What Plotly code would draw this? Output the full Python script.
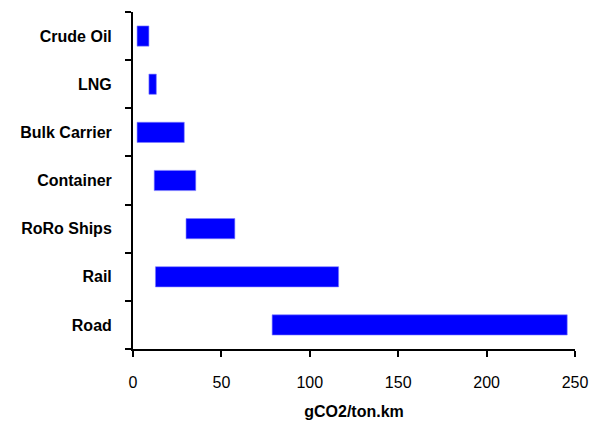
import plotly.graph_objects as go

categories = ["Crude Oil", "LNG", "Bulk Carrier", "Container", "RoRo Ships", "Rail", "Road"]
low_values = [2.3, 9, 2.3, 12, 30, 12.7, 78.7]
high_values = [9, 13.2, 29, 35.5, 57.6, 116.3, 245.6]
x_ticks = [0, 50, 100, 150, 200, 250]

spans = [h - l for l, h in zip(low_values, high_values)]

fig = go.Figure(go.Bar(
    y=categories, x=spans, base=low_values, orientation="h",
    marker=dict(color="#0000FF", line=dict(color="#8080FF", width=0.6)),
    width=0.42,
))

font_family = "Liberation Sans, Arial, sans-serif"
# page body has an 8px margin, so the figure is sized to fit the remaining window
fig.update_layout(
    width=591, height=413,
    margin=dict(l=125, r=24, t=4, b=72),
    paper_bgcolor="white", plot_bgcolor="white",
    showlegend=False,
    font=dict(family=font_family, size=15, color="black"),
)
fig.update_xaxes(
    range=[0, 250], tickvals=x_ticks, showgrid=False, zeroline=False,
    automargin=False,
    showline=True, linecolor="black", linewidth=2,
    ticks="outside", ticklen=6, tickwidth=2, tickcolor="black",
    ticklabelstandoff=12,
    tickfont=dict(size=16, family=font_family),
    tickprefix="<b>", ticksuffix="</b>",
    title=dict(text="<b>gCO2/ton.km</b>", font=dict(size=16, family=font_family), standoff=16),
)
fig.update_yaxes(
    categoryorder="array", categoryarray=categories[::-1],
    range=[-0.5, 6.5],
    automargin=False,
    showgrid=False, zeroline=False,
    showline=True, linecolor="black", linewidth=2,
    ticks="outside", ticklen=6, tickwidth=2, tickcolor="black",
    tickson="boundaries",
    ticklabelstandoff=16,
    tickfont=dict(size=16, family=font_family),
    tickprefix="<b>", ticksuffix="</b>",
)

fig.write_html("out.html")
